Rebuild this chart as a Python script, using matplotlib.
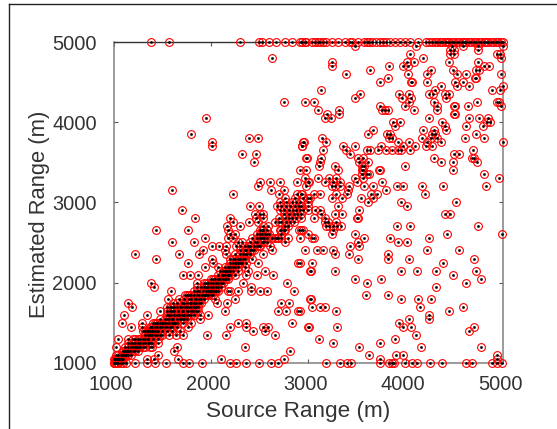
import matplotlib
matplotlib.use("Agg")
import matplotlib.pyplot as plt
from matplotlib.lines import Line2D
from matplotlib.transforms import ScaledTranslation

# Source range values (m) seen at each estimated range level (m)
src_5000 = [1385,1575,2295,2490,2525,2595,2665,2765,2830,2915,2935,2965,2975,3040,3070,3105,3125,3155,3180,3240,3310,3375,3430,3445,3515,3570,3600,3625,3650,3700,3735,3765,3800,3840,3890,3940,3995,4045,4130,4210,4245,4275,4300,4325,4350,4375,4400,4425,4450,4475,4500,4525,4550,4575,4600,4625,4650,4675,4700,4725,4750,4775,4800,4825,4850,4875,4900,4925,4950,4975,5000]
src_4950 = [3485,4105,4475,4590,4745,5000]
src_4900 = [4460,4495,4745]
src_4850 = [4045,4460,4495,4940,4970]
src_4800 = [2630,4180,4980]
src_4750 = [3245,4010,4085,4450,4745]
src_4700 = [3245,3830,3970,4020,4800,4860]
src_4650 = [3635,4260,4485,4725,4750]
src_4600 = [3390,4020,4215,4525,4615,4980]
src_4550 = [3820,4710,4725]
src_4500 = [3735,4060,4065,4215,4505,4590]
src_4450 = [4360,4530,4655,4995]
src_4400 = [3135,4300,4890,4970]
src_4350 = [3530,3930,4035,4235,4285,4400,4445]
src_4300 = [3485,3960,4060,4410]
src_4250 = [2750,2965,3060,4035,4295,4735,4935,4960]
src_4200 = [3740,3990,4325,4495,4510,4640,4980]
src_4150 = [3095,3315,3755,3790,3820,4090,4320]
src_4100 = [3195,3315,4495,4510]
src_4050 = [1950,3170,3230,4245,4655,4750,4850]
src_4000 = [3875,3940,4375,4840,4865]
src_3950 = [3890,4400,4615,4790]
src_3900 = [3660,4180,4290,4410]
src_3850 = [1800,3610,3805,3840,4270,4300,4720]
src_3800 = [2390,2485,3140,3830,3855,4165,4265,4325,4610,4810]
src_3750 = [2010,2950,2955,3180,3920,4030,4215,4360,4995]
src_3700 = [2010,2935,2940,3355,3485,3745,3975,4095,4210,4275]
src_3650 = [3150,3385,3600,3635,3720,3800,3865,3925,3950,4050,4690]
src_3600 = [2320,2460,3430,4495,4550]
src_3550 = [2980,2990,3135,3515,3565,4290,4685,4700]
src_3500 = [2440,3120,3525,3615,4360,4485,4730]
src_3450 = [3110,3270,3550,3570,3995]
src_3400 = [2915,2975,3310,3550,3565,3725,3735,4490]
src_3350 = [3550,3600,3625,4800]
src_3300 = [2970,3105,3215,3290,3485,3565,4955]
src_3250 = [2500,2605,2705,2880,3000,3010,3170,3255,3325,3505,3755]
src_3200 = [2480,2980,3240,3275,3325,3420,3575,3660,3910,3975,4165,4380,4830]
src_3150 = [1605,2615,2750,3410,3800]
src_3100 = [2230,2695,2885,2930,2940,3060,3125,3290,3395,3640,3710,4200]
src_3050 = [2765,2860,2945,3000,3020,3240,3345,3540,3670]
src_3000 = [2710,2830,2915,3000,3615,3950,4515,2775,2875]
src_2950 = [2400,2495,2680,2725,2810,2865,2930,3000,3310,4010,2775,2900]
src_2900 = [1700,2710,2845,2915,2950,3000,3070,3120,3525,2750,2800,2875]
src_2850 = [2455,2505,2540,2755,2880,3135,3270,3345,4405,4455,2800,2850,2925]
src_2800 = [1835,2195,2465,2540,2760,2830,2930,3060,3170,3505,3510,2700,2800,2875]
src_2750 = [2230,2390,2485,2660,2725,2810,3170,3205,3290,2700,2775,2850]
src_2700 = [2170,2300,2540,2590,2760,2795,3180,3215,3255,3300,3335,3910,4045,4745]
src_2650 = [1435,1760,2180,2505,2540,2710,2760,2900,2930,2950,3250,2525,2575,2725,2750]
src_2600 = [2195,2245,2470,2555,2725,3000,3240,3475,4430,4990,2500,2525,2575,2600]
src_2550 = [1940,2180,2230,2470,2505,2660,2690,2725,2795,2915,3035,3060,3570,3840,4240,2425,2525,2550,2575,2625,2675]
src_2500 = [1605,1825,2280,2315,2575,2760,3515,3925,4010,2400,2450,2475,2525,2550]
src_2450 = [2015,2085,2155,2260,2300,2385,2470,2505,2605,3430,3525,2350,2400,2440,2490]
src_2400 = [1915,2145,2365,2420,2625,2965,3085,3150,3255,4215,4545,2300,2350,2400,2440]
src_2350 = [1220,1670,1880,2160,2335,2400,2540,3275,3420,3820,2250,2300,2350,2375]
src_2300 = [1435,2010,2230,2420,3515,3820,4030,4705,2200,2250,2275,2300,2325,2350]
src_2250 = [1770,2025,2245,2280,2315,2365,2485,2890,2915,3040,4380,2200,2225,2260,2300]
src_2200 = [1940,2075,2350,2150,2175,2200,2225,2250,2275]
src_2150 = [2095,2160,2385,2555,3020,3030,3275,3950,4115,4310,4720,2125,2150,2175,2200,2225,2275]
src_2100 = [1710,1785,1865,2110,2180,2365,2470,2635,4490,2075,2125,2150,2175,2200,2250]
src_2050 = [2040,2095,2160,3485,3745,4770,2000,2025,2075,2125,2150,2175]
src_2000 = [1390,1855,1975,2335,2785,3605,4620,1925,1950,2000,2025,2050,2075,2100,2125]
src_1950 = [1415,1855,1955,2025,2075,2410,4310,1900,1925,1975,2000,2050,2100]
src_1900 = [1590,1855,1920,1990,2040,2180,2195,2280,2410,2505,2580,2855,1825,1875,1950,1975,2000,2025,2050,2075]
src_1850 = [1735,1800,1855,1905,1940,2025,3595,3820,1750,1775,1825,1875,1925,1950,1975,2000]
src_1800 = [1555,1670,1835,2040,2245,3020,3030,3950,4130,4260,1725,1775,1800,1850,1875,1900,1925]
src_1750 = [1150,1615,1750,1785,2060,2170,2725,2805,1650,1700,1725,1800,1825,1850,1875,1900]
src_1700 = [1195,1580,1685,1735,1800,1865,3040,3120,3170,4145,4585,1550,1600,1625,1650,1700,1750,1775,1825,1850]
src_1650 = [1475,1580,1665,1715,1770,1820,1870,2140,2690,2770,2890,2915,3285,4445,1550,1600,1625,1700,1750,1800,1850]
src_1600 = [1105,1340,1545,1595,1650,1700,1750,1890,1975,4240,1575,1625,1675,1725,1775,1800,1825]
src_1550 = [1475,1530,1615,1685,1890,4035,4235,1550,1575,1600,1650,1700,1725,1750]
src_1500 = [1090,1290,1410,1445,1475,1510,1545,1630,1715,1800,2275,2365,2830,3930,1425,1450,1500,1525,1575,1600,1625,1650]
src_1450 = [1175,1290,1390,1425,1530,1580,1650,1760,2195,2365,2540,2585,3000,3010,3300,3975,4055,4700,1375,1400,1450,1475,1500,1550,1600]
src_1400 = [1340,1375,1410,1460,1685,2430,2560,4650,1300,1325,1350,1400,1425,1450,1500,1550,1600]
src_1350 = [1325,1375,1425,1475,1565,1640,1710,1965,2155,2660,4105,1350,1400,1450,1500]
src_1300 = [1050,1150,1305,1355,1410,1460,3115,3890,1200,1225,1250,1275,1325,1350]
src_1250 = [1305,1460,3250,3735,1150,1175,1200,1225,1250,1275,1325,1350,1375,1400]
src_1200 = [1030,1120,1205,1235,1270,1325,1375,1650,2350,3520,4155,4775,1150,1175,1225,1250,1300,1400]
src_1150 = [1100,1135,1170,1220,1620,2810,1110,1125,1150,1200,1250]
src_1100 = [1050,1085,1120,1460,3625,3900,3970,4940,1025,1075,1100,1125,1150,1175]
src_1050 = [1015,1050,1085,1340,1420,1660,2100,2750,3735,4935,1000,1025,1040,1060,1075,1100]
src_1000 = [1000,1020,1050,1075,1100,1125,1220,1340,1425,1535,1710,1775,1905,2195,2260,2365,2490,2615,2685,3180,3325,3395,3440,3735,3830,3855,3885,3995,4070,4115,4250,4370,4625,4685,4885,4940,4985,1010,1030,1040]

levels = [(5000,src_5000),(4950,src_4950),(4900,src_4900),(4850,src_4850),(4800,src_4800),(4750,src_4750),
          (4700,src_4700),(4650,src_4650),(4600,src_4600),(4550,src_4550),(4500,src_4500),(4450,src_4450),
          (4400,src_4400),(4350,src_4350),(4300,src_4300),(4250,src_4250),(4200,src_4200),(4150,src_4150),
          (4100,src_4100),(4050,src_4050),(4000,src_4000),(3950,src_3950),(3900,src_3900),(3850,src_3850),
          (3800,src_3800),(3750,src_3750),(3700,src_3700),(3650,src_3650),(3600,src_3600),(3550,src_3550),
          (3500,src_3500),(3450,src_3450),(3400,src_3400),(3350,src_3350),(3300,src_3300),(3250,src_3250),
          (3200,src_3200),(3150,src_3150),(3100,src_3100),(3050,src_3050),(3000,src_3000),(2950,src_2950),
          (2900,src_2900),(2850,src_2850),(2800,src_2800),(2750,src_2750),(2700,src_2700),(2650,src_2650),
          (2600,src_2600),(2550,src_2550),(2500,src_2500),(2450,src_2450),(2400,src_2400),(2350,src_2350),
          (2300,src_2300),(2250,src_2250),(2200,src_2200),(2150,src_2150),(2100,src_2100),(2050,src_2050),
          (2000,src_2000),(1950,src_1950),(1900,src_1900),(1850,src_1850),(1800,src_1800),(1750,src_1750),
          (1700,src_1700),(1650,src_1650),(1600,src_1600),(1550,src_1550),(1500,src_1500),(1450,src_1450),
          (1400,src_1400),(1350,src_1350),(1300,src_1300),(1250,src_1250),(1200,src_1200),(1150,src_1150),
          (1100,src_1100),(1050,src_1050),(1000,src_1000)]
source_range = [x for _, xs in levels for x in xs]
estimated_range = [y for y, xs in levels for _ in xs]
axis_ticks = [1000, 2000, 3000, 4000, 5000]

W, H = 557, 429
plt.rcParams['font.family'] = ['Liberation Sans', 'DejaVu Sans']
fig = plt.figure(figsize=(W/100, H/100), dpi=100)
ax = fig.add_axes([113.5/W, 1-362.5/H, 389.5/W, 320/H])
ax.plot(source_range, estimated_range, ls='none', marker='o', ms=5.6, mfc='none', mec='#ff0000', mew=0.8, clip_on=False, zorder=3)
ax.plot(source_range, estimated_range, ls='none', marker='o', ms=1.9, mfc='black', mec='black', mew=0.1, clip_on=False, zorder=4)
ax.set_xlim(1000, 5000)
ax.set_ylim(1000, 5000)
ax.set_xticks(axis_ticks)
ax.set_yticks(axis_ticks)
ax.tick_params(direction='in', length=3, width=0.8, color='#555555', labelcolor='#333333', labelsize=14.4,
               top=True, right=True)
ax.tick_params(axis='y', pad=12)
ax.tick_params(axis='x', pad=9)
shift = ScaledTranslation(-3/100, 0, fig.dpi_scale_trans)
for lab in ax.get_xticklabels():
    lab.set_transform(lab.get_transform() + shift)
ax.set_xlabel('Source Range (m)', fontsize=16.2, color='#333333', va='baseline')
ax.xaxis.set_label_coords(298.5/W, 1-416.7/H, transform=fig.transFigure)
ax.set_ylabel('Estimated Range (m)', fontsize=15.8, color='#333333', va='baseline')
ax.yaxis.set_label_coords(45/W, 1-214/H, transform=fig.transFigure)
for side in ('left', 'right', 'bottom'):
    ax.spines[side].set_color('#808080')
    ax.spines[side].set_linewidth(1.1)
ax.spines['top'].set_color('#333333')
ax.spines['top'].set_linewidth(1.0)
fig.add_artist(Line2D([8.5/W, 8.5/W], [0, 1-3.5/H], color='#222222', lw=1.0))
fig.add_artist(Line2D([8.5/W, 1], [1-3.5/H, 1-3.5/H], color='#222222', lw=1.0))
fig.savefig('out.png', dpi=100)
